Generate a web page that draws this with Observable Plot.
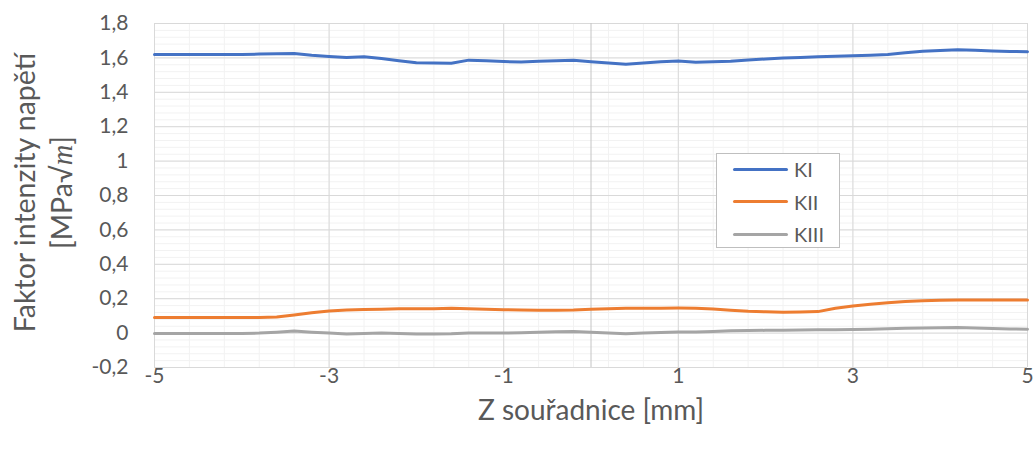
<!DOCTYPE html>
<html><head><meta charset="utf-8">
<script src="https://cdn.jsdelivr.net/npm/d3@7"></script>
<script src="https://cdn.jsdelivr.net/npm/@observablehq/plot@0.6"></script>
<style>
body{margin:0;background:#fff;}
#wrap{position:relative;width:1034px;height:450px;font-family:Lato, sans-serif;color:#595959;}
#legend{position:absolute;left:716px;top:153px;width:124px;height:95px;box-sizing:border-box;border:1.5px solid #bfbfbf;background:#fff;}
.row{position:absolute;left:0;height:24px;display:flex;align-items:center;font-size:20px;}
.sw{width:55px;height:3px;border-radius:2px;margin-left:16px;margin-right:6px;}
</style></head><body><div id="wrap"></div>
<script>
const zValues = [-5,-4.8,-4.6,-4.4,-4.2,-4,-3.8,-3.6,-3.4,-3.2,-3,-2.8,-2.6,-2.4,-2.2,-2,-1.8,-1.6,-1.4,-1.2,-1,-0.8,-0.6,-0.4,-0.2,0,0.2,0.4,0.6,0.8,1,1.2,1.4,1.6,1.8,2,2.2,2.4,2.6,2.8,3,3.2,3.4,3.6,3.8,4,4.2,4.4,4.6,4.8,5];
const seriesNames = ["KI", "KII", "KIII"];
const seriesColors = ["#4472C4", "#ED7D31", "#A5A5A5"];
const kI = [1.620,1.620,1.620,1.620,1.620,1.620,1.622,1.624,1.626,1.615,1.608,1.603,1.607,1.596,1.584,1.572,1.570,1.569,1.587,1.583,1.579,1.576,1.580,1.584,1.587,1.578,1.570,1.563,1.570,1.577,1.582,1.575,1.577,1.580,1.588,1.594,1.599,1.603,1.606,1.609,1.612,1.616,1.620,1.630,1.638,1.643,1.648,1.644,1.640,1.637,1.636];
const kII = [0.091,0.091,0.091,0.091,0.091,0.091,0.091,0.093,0.105,0.118,0.128,0.134,0.137,0.139,0.141,0.142,0.142,0.144,0.141,0.138,0.136,0.134,0.133,0.133,0.134,0.138,0.142,0.145,0.144,0.145,0.146,0.145,0.140,0.133,0.127,0.124,0.121,0.122,0.125,0.145,0.158,0.168,0.177,0.184,0.188,0.191,0.193,0.193,0.192,0.192,0.192];
const kIII = [-0.002,-0.002,-0.002,-0.002,-0.002,-0.002,0.0,0.005,0.012,0.005,0.0,-0.005,-0.002,0.0,-0.002,-0.005,-0.005,-0.004,0.0,0.0,0.0,0.002,0.005,0.008,0.010,0.005,0.0,-0.004,0.0,0.004,0.007,0.006,0.010,0.013,0.015,0.016,0.017,0.018,0.019,0.020,0.021,0.023,0.026,0.028,0.030,0.031,0.032,0.030,0.027,0.024,0.023];
const xTicks = [-5, -3, -1, 1, 3, 5];
const yTicks = [-0.2, 0, 0.2, 0.4, 0.6, 0.8, 1, 1.2, 1.4, 1.6, 1.8];
const yTitle = ["Faktor intenzity napětí", "[MPa√m]"];
const xTitle = "Z souřadnice [mm]";

const rows = [];
[kI, kII, kIII].forEach((vals, i) => vals.forEach((v, j) => rows.push({z: zValues[j], k: v, s: seriesNames[i]})));

const fmt = d3.formatLocale({decimal: ",", thousands: " ", grouping: [3], currency: ["", ""], minus: "-"}).format("~g");
const minorX = d3.range(0, 26).map(i => +(-5 + i * 0.4).toFixed(2));
const minorY = d3.range(0, 51).map(i => +(-0.2 + i * 0.04).toFixed(2));

const chart = Plot.plot({
  width: 1034, height: 450,
  marginLeft: 154, marginRight: 7, marginTop: 23, marginBottom: 83,
  style: {fontFamily: "Lato, sans-serif", fontSize: "21px", color: "#595959", background: "#fff"},
  x: {domain: [-5, 5]},
  y: {domain: [-0.2, 1.8]},
  color: {domain: seriesNames, range: seriesColors},
  marks: [
    Plot.gridY(minorY, {stroke: "#f2f2f2", strokeOpacity: 1}),
    Plot.gridX(minorX, {stroke: "#f2f2f2", strokeOpacity: 1}),
    Plot.gridY(yTicks, {stroke: "#d9d9d9", strokeOpacity: 1}),
    Plot.gridX(xTicks, {stroke: "#d9d9d9", strokeOpacity: 1}),
    Plot.ruleX([0], {stroke: "#c4c4c4"}),
    Plot.axisY(yTicks, {tickSize: 0, tickPadding: 26, tickFormat: fmt, label: null}),
    Plot.axisX(xTicks, {tickSize: 0, tickPadding: 1, tickFormat: fmt, label: null}),
    Plot.text([yTitle[0]], {frameAnchor: "left", textAnchor: "middle", rotate: -90, dx: -129, dy: -3, fontSize: 28.5}),
    Plot.text([yTitle[1]], {frameAnchor: "left", textAnchor: "middle", rotate: -90, dx: -92, dy: -3, fontSize: 28.5}),
    Plot.text([xTitle], {frameAnchor: "bottom", lineAnchor: "middle", dy: 44, fontSize: 28}),
    Plot.line(rows, {x: "z", y: "k", stroke: "s", strokeWidth: 3, strokeLinejoin: "round", strokeLinecap: "round"})
  ]
});

d3.select(chart).selectAll("text").filter(function () { return this.textContent === yTitle[1]; }).each(function () {
  const t = d3.select(this);
  t.text(null);
  t.append("tspan").text("[MPa√");
  t.append("tspan").attr("font-style", "italic").attr("font-family", "Liberation Serif").text("m");
  t.append("tspan").text("]");
});

const wrap = document.getElementById("wrap");
wrap.appendChild(chart);
const legend = document.createElement("div");
legend.id = "legend";
seriesNames.forEach((name, i) => {
  const row = document.createElement("div");
  row.className = "row";
  row.style.top = (3 + i * 32.5) + "px";
  const sw = document.createElement("span");
  sw.className = "sw";
  sw.style.background = seriesColors[i];
  const lab = document.createElement("span");
  lab.textContent = name;
  row.appendChild(sw); row.appendChild(lab);
  legend.appendChild(row);
});
wrap.appendChild(legend);
</script></body></html>
